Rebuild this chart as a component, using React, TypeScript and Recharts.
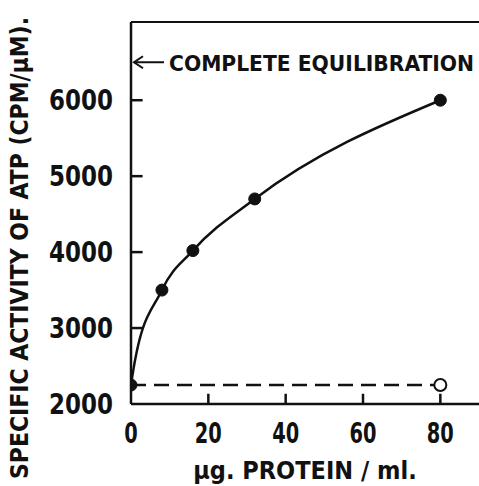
import React from "react";
import {
  LineChart,
  Line,
  XAxis,
  YAxis,
  ReferenceDot,
  ReferenceLine,
  Label,
} from "recharts";

// µg protein / ml vs specific activity of ATP (cpm/µM)
const protein = [0, 8, 16, 32, 80];
const activity = [2250, 3500, 4020, 4700, 6000];
const controlProtein = [0, 80];
const controlActivity = [2250, 2250];
const xTicks = [0, 20, 40, 60, 80];
const yTicks = [2000, 3000, 4000, 5000, 6000];
const equilibrationLevel = 6500;
const yTop = 7030;

const curve = protein.map((p, i) => ({ x: p, y: activity[i] }));
const control = controlProtein.map((p, i) => ({ x: p, y: controlActivity[i] }));

const FONT = "'DejaVu Sans Condensed', 'DejaVu Sans', sans-serif";
const INK = "#111";

// hand-drawn look: monotone cubic, but with a steeper start tangent
function steepStart(context: any) {
  let xs: number[] = [];
  let ys: number[] = [];
  return {
    areaStart() {},
    areaEnd() {},
    lineStart() {
      xs = [];
      ys = [];
    },
    point(x: number, y: number) {
      xs.push(+x);
      ys.push(+y);
    },
    lineEnd() {
      const n = xs.length;
      if (!n) return;
      context.moveTo(xs[0], ys[0]);
      if (n === 1) return;
      const h: number[] = [];
      const s: number[] = [];
      for (let i = 0; i < n - 1; i++) {
        h.push(xs[i + 1] - xs[i]);
        s.push((ys[i + 1] - ys[i]) / h[i]);
      }
      const t: number[] = new Array(n).fill(0);
      for (let i = 1; i < n - 1; i++) {
        const p = (s[i - 1] * h[i] + s[i] * h[i - 1]) / (h[i - 1] + h[i]);
        t[i] =
          (Math.sign(s[i - 1]) + Math.sign(s[i])) *
          Math.min(Math.abs(s[i - 1]), Math.abs(s[i]), 0.5 * Math.abs(p)) || 0;
      }
      if (n > 2) {
        t[0] = 3 * s[0] - t[1];
        t[n - 1] = (3 * s[n - 2] - t[n - 2]) / 2;
      } else {
        t[0] = s[0];
        t[1] = s[0];
      }
      for (let i = 0; i < n - 1; i++) {
        const d = h[i] / 3;
        context.bezierCurveTo(
          xs[i] + d,
          ys[i] + t[i] * d,
          xs[i + 1] - d,
          ys[i + 1] - t[i + 1] * d,
          xs[i + 1],
          ys[i + 1]
        );
      }
    },
  };
}

function OpenEnd(props: any) {
  const { cx, cy, index } = props;
  if (index !== control.length - 1) return <g key={`c${index}`} />;
  return <circle key={`c${index}`} cx={cx} cy={cy} r={6} fill="#fff" stroke={INK} strokeWidth={2} />;
}

function EquilibrationNote(props: any) {
  const { cx, cy } = props;
  return (
    <g>
      <line x1={cx + 3} y1={cy} x2={cx + 33} y2={cy} stroke={INK} strokeWidth={2} />
      <path d={`M${cx + 12},${cy - 6} L${cx + 3},${cy} L${cx + 12},${cy + 6}`} fill="none" stroke={INK} strokeWidth={2} />
      <text
        x={cx + 38}
        y={cy + 9}
        fontFamily={FONT}
        fontWeight="bold"
        fontSize={22}
        fill={INK}
        textLength={305}
        lengthAdjust="spacingAndGlyphs"
      >
        COMPLETE EQUILIBRATION
      </text>
    </g>
  );
}

function YTick(props: any) {
  const { x, y, payload } = props;
  return (
    <text
      x={x}
      y={y + 10}
      textAnchor="end"
      fontFamily={FONT}
      fontWeight="bold"
      fontSize={29}
      fill={INK}
      textLength={64}
      lengthAdjust="spacingAndGlyphs"
    >
      {payload.value}
    </text>
  );
}

function XTick(props: any) {
  const { x, y, payload } = props;
  const s = String(payload.value);
  return (
    <text
      x={x}
      y={y + 21}
      textAnchor="middle"
      fontFamily={FONT}
      fontWeight="bold"
      fontSize={29}
      fill={INK}
      textLength={s.length * 13.5}
      lengthAdjust="spacingAndGlyphs"
    >
      {s}
    </text>
  );
}

function YTitle() {
  return (
    <text
      x={0}
      y={0}
      transform="translate(28, 248) rotate(-90)"
      textAnchor="middle"
      fontFamily={FONT}
      fontWeight="bold"
      fontSize={24}
      fill={INK}
      textLength={462}
      lengthAdjust="spacingAndGlyphs"
    >
      SPECIFIC ACTIVITY OF ATP (CPM/μM).
    </text>
  );
}

export default function App() {
  return (
    <div style={{ position: "absolute", left: 0, top: 0, width: 479, height: 486, background: "#fff" }}>
      <LineChart width={479} height={486} margin={{ top: 22, right: 0, left: 0, bottom: 0 }}>
        <XAxis
          type="number"
          dataKey="x"
          domain={[0, 90]}
          ticks={xTicks}
          height={82}
          tickSize={-10}
          tickMargin={28}
          tick={<XTick />}
          tickLine={false}
          axisLine={{ stroke: INK, strokeWidth: 2.5 }}
          allowDataOverflow
        >
          <Label
            value="μg. PROTEIN / ml."
            position="insideBottom"
            offset={7}
            style={{ fill: INK, fontSize: 25, fontFamily: FONT, fontWeight: "bold" }}
          />
        </XAxis>
        <YAxis
          type="number"
          domain={[2000, yTop]}
          ticks={yTicks}
          width={131}
          tickSize={-10}
          tickMargin={28}
          tick={<YTick />}
          tickLine={false}
          axisLine={{ stroke: INK, strokeWidth: 2.5 }}
          allowDataOverflow
        >
          <Label content={<YTitle />} />
        </YAxis>
        <ReferenceLine y={yTop} stroke={INK} strokeWidth={2} />
        {/* inward tick marks */}
        {yTicks.slice(1).map((v) => (
          <ReferenceLine
            key={`yt${v}`}
            segment={[{ x: 0, y: v }, { x: 3, y: v }]}
            stroke={INK}
            strokeWidth={2.5}
          />
        ))}
        {xTicks.slice(1).map((v) => (
          <ReferenceLine
            key={`xt${v}`}
            segment={[{ x: v, y: 2000 }, { x: v, y: 2135 }]}
            stroke={INK}
            strokeWidth={2.5}
          />
        ))}
        <Line
          data={control}
          dataKey="y"
          type="linear"
          stroke={INK}
          strokeWidth={2.5}
          strokeDasharray="15 8"
          dot={<OpenEnd />}
          activeDot={false}
          isAnimationActive={false}
        />
        <Line
          data={curve}
          dataKey="y"
          type={steepStart as any}
          stroke={INK}
          strokeWidth={2.5}
          dot={{ r: 6, fill: INK, stroke: INK, strokeWidth: 1 }}
          activeDot={false}
          isAnimationActive={false}
        />
        <ReferenceDot x={0} y={equilibrationLevel} r={0} shape={<EquilibrationNote />} />
      </LineChart>
    </div>
  );
}
